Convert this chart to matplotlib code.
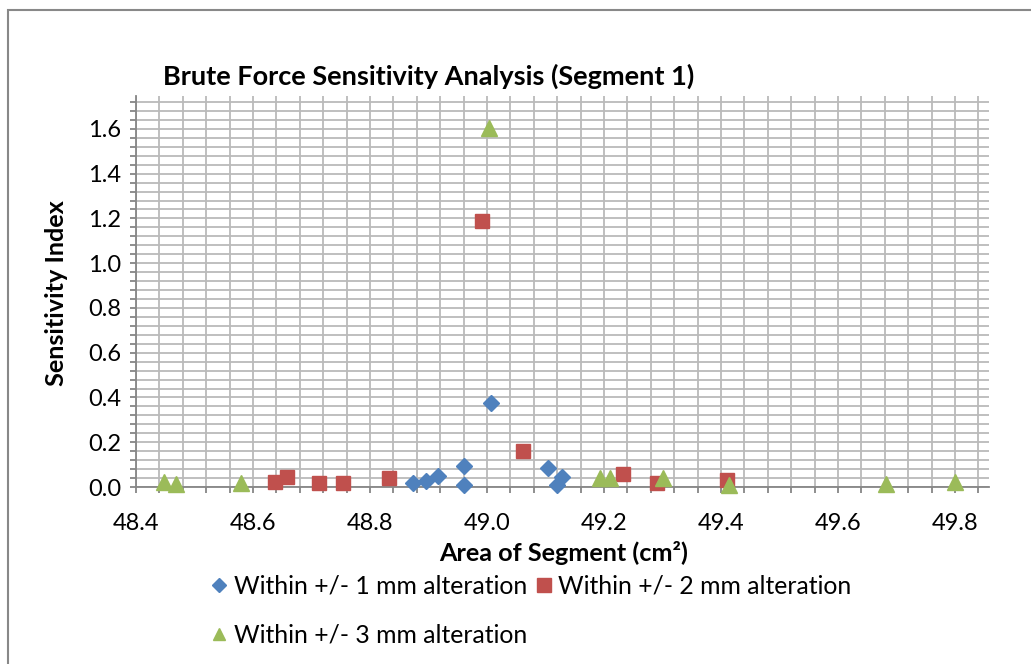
import matplotlib
matplotlib.use("Agg")
import matplotlib.pyplot as plt
from matplotlib.ticker import MultipleLocator, FormatStrFormatter
from matplotlib.lines import Line2D
from matplotlib.patches import Rectangle

plt.rcParams['font.family'] = ['Lato', 'DejaVu Sans']

# Sensitivity results by alteration range
area_1mm = [48.874, 48.896, 48.917, 48.961, 48.961, 49.007, 49.105, 49.128, 49.120]
sens_1mm = [0.016, 0.028, 0.049, 0.094, 0.009, 0.377, 0.083, 0.043, 0.009]

area_2mm = [48.638, 48.658, 48.712, 48.754, 48.832, 48.991, 49.061, 49.233, 49.290, 49.411]
sens_2mm = [0.024, 0.043, 0.019, 0.016, 0.042, 1.190, 0.162, 0.058, 0.016, 0.031]

area_3mm = [48.448, 48.468, 48.580, 49.004, 49.193, 49.210, 49.301, 49.414, 49.682, 49.800]
sens_3mm = [0.024, 0.013, 0.019, 1.603, 0.039, 0.039, 0.039, 0.009, 0.013, 0.024]

labels = ["Within +/- 1 mm alteration",
          "Within +/- 2 mm alteration",
          "Within +/- 3 mm alteration"]

BLUE, RED, GREEN = "#4F81BD", "#C0504D", "#9BBB59"
GRID = "#BABABA"
AXIS = "#868686"

W, H = 1031, 664
fig = plt.figure(figsize=(W / 100, H / 100), dpi=100)

# chart border (top and left edges visible)
fig.add_artist(Rectangle((8 / W, -0.1), 1.2, 1 - 10 / H + 0.1, transform=fig.transFigure,
                         fill=False, edgecolor="#888888", linewidth=1.5))

left, right, top, bottom = 136, 989, 96, 487
ax = fig.add_axes([left / W, 1 - bottom / H, (right - left) / W, (bottom - top) / H])

ax.set_xlim(48.4, 49.858)
ax.set_ylim(0, 1.747)

ax.xaxis.set_major_locator(MultipleLocator(0.2))
ax.xaxis.set_minor_locator(MultipleLocator(0.04))
ax.yaxis.set_major_locator(MultipleLocator(0.2))
ax.yaxis.set_minor_locator(MultipleLocator(0.04))
ax.xaxis.set_major_formatter(FormatStrFormatter("%.1f"))
ax.yaxis.set_major_formatter(FormatStrFormatter("%.1f"))

ax.grid(True, which="both", color=GRID, linewidth=1.3, zorder=0)
ax.set_axisbelow(True)
for s in ("top", "right"):
    ax.spines[s].set_visible(False)
for s in ("left", "bottom"):
    ax.spines[s].set_color(AXIS)
    ax.spines[s].set_linewidth(1.3)

ax.tick_params(which="both", direction="out", length=4.5, width=1.3, color=AXIS)
ax.tick_params(which="major", labelsize=17, labelcolor="black")
ax.tick_params(axis="x", which="major", pad=14)
ax.tick_params(axis="y", which="major", pad=6)

ax.plot(area_1mm, sens_1mm, linestyle="none", marker="D", markersize=8.5,
        color=BLUE, label=labels[0], zorder=3, clip_on=False)
ax.plot(area_2mm, sens_2mm, linestyle="none", marker="s", markersize=10.5,
        color=RED, label=labels[1], zorder=3, clip_on=False)
ax.plot(area_3mm, sens_3mm, linestyle="none", marker="^", markersize=11,
        color=GREEN, label=labels[2], zorder=3, clip_on=False)

fig.text(163 / W, 1 - 76 / H, "Brute Force Sensitivity Analysis (Segment 1)",
         fontsize=19.5, fontweight="bold", ha="left", va="center")
fig.text(57 / W, 1 - 293 / H, "Sensitivity Index", fontsize=18.2, fontweight="bold",
         rotation=90, ha="center", va="center")
fig.text(564 / W, 1 - 553 / H, "Area of Segment (cm²)", fontsize=18.2,
         fontweight="bold", ha="center", va="center")

handles = [
    Line2D([], [], linestyle="none", marker="D", markersize=7.5, color=BLUE),
    Line2D([], [], linestyle="none", marker="^", markersize=9, color=GREEN),
    Line2D([], [], linestyle="none", marker="s", markersize=9.5, color=RED),
]
leg = fig.legend(handles, [labels[0], labels[2], labels[1]], ncol=2,
                 loc="upper left", bbox_to_anchor=(212 / W, 1 - 575 / H),
                 frameon=False, fontsize=17.8, handlelength=0.6, handletextpad=0.3,
                 columnspacing=0.35, labelspacing=1.05, borderpad=0, borderaxespad=0)

fig.savefig("out.png", dpi=100)
